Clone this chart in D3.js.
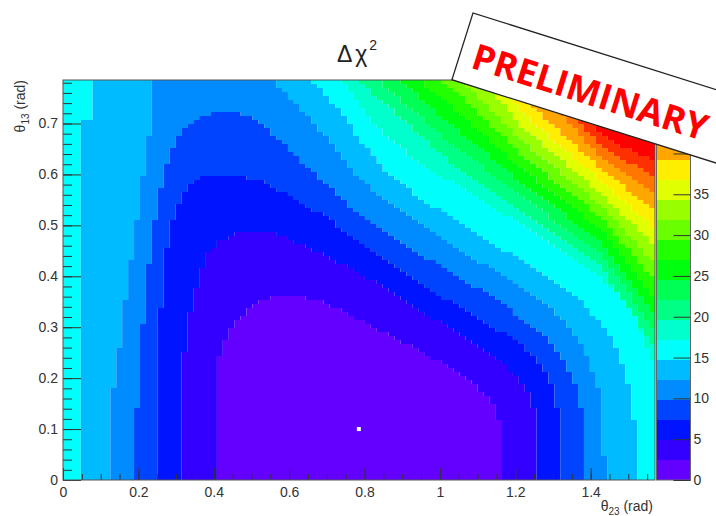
<!DOCTYPE html>
<html>
<head>
<meta charset="utf-8">
<script src="https://cdn.jsdelivr.net/npm/d3@7"></script>
<style>
  body { margin: 0; background: #fff; }
  svg text { font-family: "Liberation Sans", Arial, sans-serif; }
</style>
</head>
<body>
<div id="chart"></div>
<script>
// axis ranges (rad) and z range of the palette
const xDomain = [0, 1.5708];
const yDomain = [0, 0.7854];
const zMax = 49;
const nLevels = 20;
const nBinsX = 100;
const nBinsY = 100;

const xTickValues = [0, 0.2, 0.4, 0.6, 0.8, 1.0, 1.2, 1.4];
const yTickValues = [0, 0.1, 0.2, 0.3, 0.4, 0.5, 0.6, 0.7];
const zTickValues = [0, 5, 10, 15, 20, 25, 30, 35, 40, 45];

const bestFit = [0.785, 0.1];

// regions where delta chi2 is below level k*zMax/20 [theta23, theta13]
const c01 = [[0.403,0],[0.403,0.21],[0.42,0.25],[0.437,0.285],[0.46,0.31],[0.49,0.333],[0.52,0.35],[0.56,0.36],[0.61,0.362],[0.66,0.356],[0.72,0.34],[0.775,0.318],[0.863,0.285],[0.952,0.253],[1.04,0.213],[1.11,0.175],[1.15,0.14],[1.159,0.1],[1.159,0]];
const c02 = [[0.31,0],[0.312,0.15],[0.322,0.25],[0.338,0.33],[0.36,0.4],[0.385,0.445],[0.42,0.47],[0.46,0.483],[0.515,0.489],[0.57,0.483],[0.65,0.458],[0.72,0.43],[0.78,0.41],[0.863,0.371],[0.952,0.331],[1.04,0.292],[1.128,0.248],[1.19,0.213],[1.235,0.174],[1.255,0.13],[1.257,0]];
const c03 = [[0.249,0],[0.252,0.2],[0.258,0.33],[0.272,0.45],[0.295,0.525],[0.325,0.57],[0.363,0.593],[0.434,0.6],[0.523,0.587],[0.611,0.555],[0.70,0.515],[0.78,0.472],[0.863,0.426],[0.952,0.385],[1.04,0.345],[1.128,0.306],[1.217,0.266],[1.27,0.226],[1.297,0.187],[1.314,0.135],[1.316,0]];
const c04 = [[0.188,0],[0.2,0.2],[0.215,0.33],[0.232,0.46],[0.25,0.54],[0.27,0.615],[0.293,0.658],[0.319,0.69],[0.355,0.711],[0.421,0.725],[0.487,0.717],[0.53,0.698],[0.567,0.672],[0.611,0.64],[0.664,0.606],[0.717,0.57],[0.775,0.525],[0.863,0.482],[0.952,0.442],[1.04,0.403],[1.128,0.364],[1.217,0.318],[1.288,0.279],[1.332,0.233],[1.358,0.187],[1.378,0.135],[1.38,0]];
const c05 = [[0.125,0],[0.128,0.15],[0.148,0.25],[0.168,0.37],[0.188,0.47],[0.204,0.555],[0.218,0.632],[0.235,0.704],[0.235,0.785],[0.558,0.785],[0.611,0.744],[0.664,0.704],[0.717,0.655],[0.775,0.6],[0.863,0.545],[0.952,0.5],[1.04,0.458],[1.128,0.418],[1.217,0.377],[1.305,0.331],[1.358,0.285],[1.394,0.24],[1.42,0.187],[1.436,0.135],[1.438,0]];
const c06 = [[0.05,0],[0.05,0.705],[0.08,0.705],[0.08,0.785],[0.655,0.785],[0.70,0.755],[0.744,0.715],[0.79,0.665],[0.863,0.6],[0.952,0.552],[1.04,0.51],[1.128,0.47],[1.217,0.43],[1.305,0.39],[1.376,0.351],[1.429,0.305],[1.465,0.266],[1.491,0.213],[1.509,0.161],[1.518,0.1],[1.518,0]];
const c07 = [[0,0],[0,0.785],[0.735,0.785],[0.79,0.73],[0.863,0.67],[0.952,0.622],[1.04,0.58],[1.128,0.541],[1.217,0.501],[1.305,0.462],[1.394,0.416],[1.465,0.37],[1.518,0.318],[1.544,0.266],[1.571,0.22],[1.571,0]];
const c08 = [[0,0],[0,0.785],[0.783,0.785],[1.04,0.617],[1.217,0.528],[1.425,0.42],[1.571,0.255],[1.571,0]];
const c09 = [[0,0],[0,0.785],[0.836,0.785],[1.04,0.654],[1.217,0.556],[1.425,0.446],[1.571,0.289],[1.571,0]];
const c10 = [[0,0],[0,0.785],[0.894,0.785],[1.04,0.691],[1.217,0.583],[1.425,0.469],[1.571,0.322],[1.571,0]];
const c11 = [[0,0],[0,0.785],[0.947,0.785],[1.04,0.728],[1.217,0.611],[1.425,0.495],[1.571,0.357],[1.571,0]];
const c12 = [[0,0],[0,0.785],[1.0,0.785],[1.04,0.766],[1.217,0.638],[1.425,0.518],[1.571,0.391],[1.571,0]];
const c13 = [[0,0],[0,0.785],[1.059,0.785],[1.217,0.666],[1.425,0.542],[1.571,0.424],[1.571,0]];
const c14 = [[0,0],[0,0.785],[1.112,0.785],[1.217,0.694],[1.425,0.565],[1.571,0.459],[1.571,0]];
const c15 = [[0,0],[0,0.785],[1.159,0.785],[1.217,0.721],[1.425,0.589],[1.571,0.493],[1.571,0]];
const c16 = [[0,0],[0,0.785],[1.199,0.785],[1.217,0.75],[1.425,0.613],[1.571,0.526],[1.571,0]];
const c17 = [[0,0],[0,0.785],[1.239,0.785],[1.425,0.634],[1.571,0.56],[1.571,0]];
const c18 = [[0,0],[0,0.785],[1.279,0.785],[1.425,0.656],[1.571,0.593],[1.571,0]];
const c19 = [[0,0],[0,0.785],[1.319,0.785],[1.425,0.677],[1.571,0.624],[1.571,0]];

const contours = [c01, c02, c03, c04, c05, c06, c07, c08, c09, c10,
                  c11, c12, c13, c14, c15, c16, c17, c18, c19];

const W = 716, H = 516;
const frame = { left: 63, right: 655, top: 80, bottom: 480 };

const svg = d3.select("#chart").append("svg")
    .attr("width", W)
    .attr("height", H);

const x = d3.scaleLinear().domain(xDomain).range([frame.left, frame.right]);
const y = d3.scaleLinear().domain(yDomain).range([frame.bottom, frame.top]);
const z = d3.scaleLinear().domain([0, zMax]).range([frame.bottom, frame.top]);

// ROOT "pretty" palette: 50 colours violet -> red, picked for 20 contours
function bandColor(k) {
    const idx = Math.floor((k + 0.99) * 50 / nLevels);
    return d3.hsl(280 - (idx + 1) * 5.6, 1, 0.5).formatHex();
}

function bandOf(p) {
    for (let k = 0; k < contours.length; k++) {
        if (d3.polygonContains(contours[k], p)) return k;
    }
    return contours.length;
}

// fill the histogram bins, merged into horizontal runs
const bw = (xDomain[1] - xDomain[0]) / nBinsX;
const bh = (yDomain[1] - yDomain[0]) / nBinsY;
const cells = [];
for (let j = 0; j < nBinsY; j++) {
    const yc = yDomain[0] + (j + 0.5) * bh;
    let start = 0, cur = null;
    for (let i = 0; i <= nBinsX; i++) {
        const b = i < nBinsX ? bandOf([xDomain[0] + (i + 0.5) * bw, yc]) : null;
        if (b !== cur) {
            if (cur !== null) cells.push({ i0: start, i1: i, j: j, band: cur });
            start = i;
            cur = b;
        }
    }
}

svg.append("g")
  .selectAll("rect")
  .data(cells)
  .join("rect")
    .attr("x", d => x(xDomain[0] + d.i0 * bw))
    .attr("width", d => x(xDomain[0] + d.i1 * bw) - x(xDomain[0] + d.i0 * bw))
    .attr("y", d => y(yDomain[0] + (d.j + 1) * bh))
    .attr("height", d => y(yDomain[0] + d.j * bh) - y(yDomain[0] + (d.j + 1) * bh))
    .attr("fill", d => bandColor(d.band));

// best fit point
svg.append("rect")
    .attr("x", x(bestFit[0]) - 2)
    .attr("y", y(bestFit[1]) - 2)
    .attr("width", 4)
    .attr("height", 4)
    .attr("fill", "#fff");

// axes
function styleAxis(g) {
    g.select(".domain").remove();
    g.selectAll("line").attr("stroke", "#333");
    g.selectAll("text").attr("fill", "#333").attr("font-size", 14)
        .attr("font-family", "Liberation Sans, Arial, sans-serif");
}

svg.append("g")
    .attr("transform", `translate(0,${frame.bottom})`)
    .call(d3.axisBottom(x).tickValues(d3.range(0, 1.571, 0.05)).tickSizeInner(-6).tickSizeOuter(0).tickFormat(""))
    .call(styleAxis);
svg.append("g")
    .attr("transform", `translate(0,${frame.bottom})`)
    .call(d3.axisBottom(x).tickValues(xTickValues).tickSizeInner(-12).tickSizeOuter(0)
        .tickPadding(7).tickFormat(d3.format("~g")))
    .call(styleAxis);

svg.append("g")
    .attr("transform", `translate(${frame.left},0)`)
    .call(d3.axisLeft(y).tickValues(d3.range(0, 0.785, 0.02)).tickSizeInner(-9).tickSizeOuter(0).tickFormat(""))
    .call(styleAxis);
svg.append("g")
    .attr("transform", `translate(${frame.left},0)`)
    .call(d3.axisLeft(y).tickValues(yTickValues).tickSizeInner(-18).tickSizeOuter(0)
        .tickPadding(5).tickFormat(d3.format("~g")))
    .call(styleAxis);

svg.append("rect")
    .attr("x", frame.left).attr("y", frame.top)
    .attr("width", frame.right - frame.left).attr("height", frame.bottom - frame.top)
    .attr("fill", "none").attr("stroke", "#555").attr("stroke-width", 1);

// palette (its top end sits under the stamp)
const pal = { left: 656.5, right: 690.5, top: 84 };
const step = zMax / nLevels;
svg.append("g")
  .selectAll("rect")
  .data(d3.range(nLevels))
  .join("rect")
    .attr("x", pal.left)
    .attr("width", pal.right - pal.left)
    .attr("y", k => Math.max(z((k + 1) * step), pal.top))
    .attr("height", k => z(k * step) - Math.max(z((k + 1) * step), pal.top))
    .attr("fill", k => bandColor(k));
svg.append("rect")
    .attr("x", pal.left).attr("y", pal.top)
    .attr("width", pal.right - pal.left).attr("height", frame.bottom - pal.top)
    .attr("fill", "none").attr("stroke", "#666").attr("stroke-width", 1);
svg.append("g")
    .attr("transform", `translate(${pal.right},0)`)
    .call(d3.axisRight(z).tickValues(zTickValues).tickSizeInner(-17).tickSizeOuter(0).tickPadding(3))
    .call(styleAxis);

// titles
const title = svg.append("text")
    .attr("x", 357).attr("y", 62)
    .attr("text-anchor", "middle")
    .attr("font-size", 23)
    .attr("fill", "#222")
    .text("Δ");
title.append("tspan").attr("dx", 3).text("χ");
title.append("tspan").attr("dx", 2).attr("dy", -12).attr("font-size", 14).text("2");

const xt = svg.append("text")
    .attr("x", frame.right - 2).attr("y", 511)
    .attr("text-anchor", "end")
    .attr("font-size", 14)
    .attr("fill", "#333")
    .text("θ");
xt.append("tspan").attr("dy", 4).attr("font-size", 10).text("23");
xt.append("tspan").attr("dy", -4).text(" (rad)");

const yt = svg.append("text")
    .attr("transform", `translate(25,${frame.top}) rotate(-90)`)
    .attr("text-anchor", "end")
    .attr("font-size", 14)
    .attr("fill", "#333")
    .text("θ");
yt.append("tspan").attr("dy", 4).attr("font-size", 10).text("13");
yt.append("tspan").attr("dy", -4).text(" (rad)");

// PRELIMINARY stamp
const stamp = svg.append("g")
    .attr("transform", "translate(473,13) rotate(17.5)");
stamp.append("rect")
    .attr("width", 420).attr("height", 70)
    .attr("fill", "#fff")
    .attr("stroke", "#222").attr("stroke-width", 1.3);
stamp.append("text")
    .attr("x", 13).attr("y", 53)
    .attr("font-size", 36)
    .attr("font-weight", "bold")
    .style("font-family", "'Open Sans', 'DejaVu Sans', sans-serif")
    .attr("fill", "#ff0000")
    .text("PRELIMINARY");
</script>
</body>
</html>
